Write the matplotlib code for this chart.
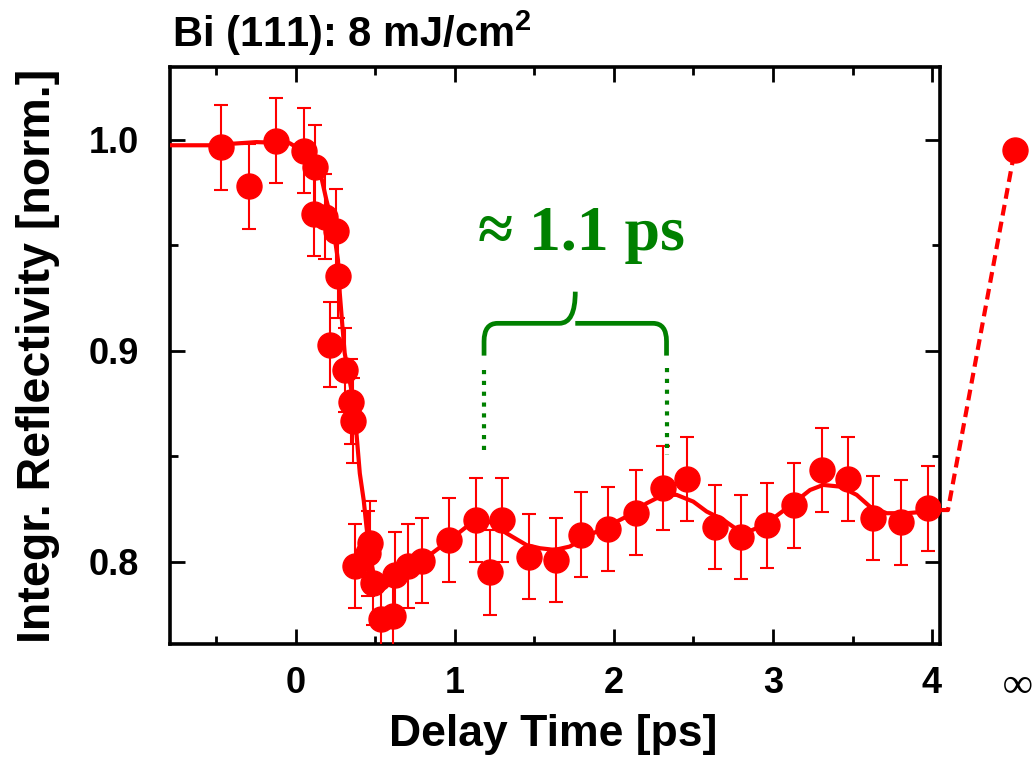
import matplotlib
matplotlib.use('Agg')
import matplotlib.pyplot as plt
from matplotlib.path import Path
from matplotlib.patches import PathPatch
from matplotlib.ticker import MultipleLocator, FixedLocator

# ---------------- data ----------------
delay = [-0.467, -0.294, -0.122, 0.05, 0.12, 0.113, 0.182, 0.256, 0.266, 0.214,
         0.308, 0.35, 0.36, 0.371, 0.455, 0.465, 0.486, 0.539, 0.612, 0.623,
         0.706, 0.794, 0.964, 1.136, 1.22, 1.294, 1.465, 1.635, 1.792, 1.964,
         2.136, 2.306, 2.461, 2.635, 2.80, 2.964, 3.13, 3.306, 3.474, 3.631,
         3.803, 3.977]
refl = [0.9965, 0.978, 0.9997, 0.995, 0.987, 0.965, 0.9637, 0.957, 0.9355, 0.903,
        0.891, 0.876, 0.867, 0.798, 0.804, 0.809, 0.790, 0.773, 0.7745, 0.794,
        0.798, 0.8006, 0.8104, 0.820, 0.795, 0.820, 0.8025, 0.801, 0.813, 0.8156,
        0.8234, 0.835, 0.8393, 0.8167, 0.8117, 0.8173, 0.8268, 0.8436, 0.8392, 0.8207,
        0.8187, 0.8254]
refl_err = [0.02, 0.02, 0.02, 0.02, 0.02, 0.02, 0.02, 0.02, 0.02, 0.02,
            0.02, 0.02, 0.02, 0.02, 0.02, 0.02, 0.02, 0.02, 0.02, 0.02,
            0.02, 0.02, 0.02, 0.02, 0.02, 0.02, 0.02, 0.02, 0.02, 0.02,
            0.02, 0.02, 0.02, 0.02, 0.02, 0.02, 0.02, 0.02, 0.02, 0.02,
            0.02, 0.02]

fit_x = [-0.792, -0.541, -0.247, -0.038, 0.067, 0.151, 0.193, 0.235, 0.266, 0.277,
         0.294, 0.308, 0.350, 0.382, 0.403, 0.428, 0.445, 0.465, 0.497, 0.528,
         0.570, 0.612, 0.696, 0.801, 0.885, 0.969, 1.074, 1.136, 1.220, 1.325,
         1.451, 1.535, 1.629, 1.723, 1.828, 1.954, 2.080, 2.206, 2.310, 2.394,
         2.499, 2.583, 2.687, 2.813, 2.897, 3.002, 3.128, 3.233, 3.316, 3.421,
         3.526, 3.610, 3.715, 3.841, 3.967, 4.050]
fit_y = [0.9975, 0.9975, 0.999, 0.9985, 0.9938, 0.9858, 0.9716, 0.959, 0.943, 0.9275,
         0.9115, 0.899, 0.8815, 0.861, 0.842, 0.829, 0.8167, 0.804, 0.7915, 0.786,
         0.7883, 0.7924, 0.796, 0.8009, 0.8057, 0.8104, 0.8167, 0.8191, 0.819, 0.8136,
         0.808, 0.8065, 0.8057, 0.8073, 0.812, 0.8167, 0.8215, 0.8278, 0.8318, 0.8318,
         0.8286, 0.8239, 0.82, 0.8133, 0.816, 0.8207, 0.8278, 0.8341, 0.8365, 0.8357,
         0.8318, 0.8262, 0.8231, 0.8231, 0.8239, 0.8246]

# link from the last delay to the "infinite delay" value (drawn past the frame)
link_x = [4.05, 4.10, 4.52]
link_y = [0.8246, 0.8246, 0.9953]
inf_x = [4.52]
inf_y = [0.9953]

xticks = [0, 1, 2, 3, 4]
xticklabels = ['0', '1', '2', '3', '4']
yticks = [0.8, 0.9, 1.0]
yticklabels = ['0.8', '0.9', '1.0']

period_start = 1.184
period_end = 2.331

# ---------------- figure ----------------
plt.rcParams['font.family'] = ['Liberation Sans', 'DejaVu Sans']
plt.rcParams['font.weight'] = 'bold'
plt.rcParams['mathtext.fontset'] = 'custom'
plt.rcParams['mathtext.bf'] = 'Liberation Sans:bold'
plt.rcParams['mathtext.rm'] = 'Liberation Sans:bold'

fig = plt.figure(figsize=(10.33, 7.61), dpi=100)
ax = fig.add_axes([170/1033, 117/761, 770/1033, 577/761])

RED = '#ff0000'
GREEN = '#008000'

ax.plot(fit_x, fit_y, color=RED, lw=3.0, zorder=3, solid_capstyle='round')
ax.errorbar(delay, refl, yerr=refl_err, fmt='o', color=RED, ms=18,
            ecolor=RED, elinewidth=1.5, capsize=5, capthick=1.5, zorder=4)

ax.plot(link_x, link_y, color=RED, lw=3.0, ls=(0, (2.6, 1.5)), clip_on=False, zorder=3)
ax.plot(inf_x, inf_y, 'o', color=RED, ms=18, clip_on=False, zorder=4)

ax.set_xlim(-0.79, 4.05)
ax.set_ylim(0.7611, 1.0346)

ax.xaxis.set_major_locator(FixedLocator(xticks))
ax.set_xticklabels(xticklabels)
ax.xaxis.set_minor_locator(MultipleLocator(0.5))
ax.yaxis.set_major_locator(FixedLocator(yticks))
ax.set_yticklabels(yticklabels)
ax.yaxis.set_minor_locator(MultipleLocator(0.05))

ax.tick_params(which='both', direction='in', top=True, right=True, width=2.0,
               labelsize=26, color='black')
ax.tick_params(which='major', length=11)
ax.tick_params(axis='y', which='major', pad=22)
ax.tick_params(axis='x', which='major', pad=16)
ax.tick_params(which='minor', length=6)
for lab in ax.get_xticklabels() + ax.get_yticklabels():
    lab.set_fontweight('bold')
for sp in ax.spines.values():
    sp.set_linewidth(2.6)

ax.set_xlabel('Delay Time [ps]', fontsize=32, fontweight='bold')
ax.xaxis.set_label_coords(0.497, -0.122)
ax.set_ylabel('Integr. Reflectivity [norm.]', fontsize=33.5, fontweight='bold')
ax.yaxis.set_label_coords(-0.143, 0.5)

# infinity label under the infinite-delay point
ax.text(inf_x[0] + 0.02, 0.7611 - 0.011, '\u221e', ha='center', va='top',
        fontsize=30, family=['Liberation Serif', 'DejaVu Serif'], fontweight='normal',
        fontstyle='italic', clip_on=False)

# title
fig.text(172/1033, 1 - 47/761, r'Bi (111): 8 mJ/cm$^{\mathbf{2}}$', fontsize=30,
         fontweight='bold', ha='left', va='baseline')

# ---------------- green period annotation ----------------
y_end, y_bar, y_tip = 0.8978, 0.9131, 0.9281
x_mid = 0.5 * (period_start + period_end)
rx, ry = 0.085, 0.0085
verts = [
    (period_start, y_end), (period_start, y_bar - ry),
    (period_start, y_bar), (period_start + rx, y_bar),
    (x_mid - 0.10, y_bar),
    (x_mid, y_bar), (x_mid, y_tip),
    (x_mid, y_bar), (x_mid + 0.10, y_bar),
    (period_end - rx, y_bar),
    (period_end, y_bar), (period_end, y_bar - ry),
    (period_end, y_end),
]
codes = [Path.MOVETO, Path.LINETO,
         Path.CURVE3, Path.CURVE3,
         Path.LINETO,
         Path.CURVE3, Path.CURVE3,
         Path.MOVETO, Path.LINETO,
         Path.LINETO,
         Path.CURVE3, Path.CURVE3,
         Path.LINETO]
ax.add_patch(PathPatch(Path(verts, codes), fill=False, edgecolor=GREEN, lw=3.4,
                       capstyle='butt', joinstyle='round', zorder=5))
ax.plot([period_start, period_start], [0.8910, 0.8500], color=GREEN, lw=3.0,
        ls=(0, (1.0, 1.6)), zorder=5)
ax.plot([period_end, period_end], [0.8920, 0.8507], color=GREEN, lw=3.0,
        ls=(0, (1.0, 1.6)), zorder=5)

ax.text(x_mid + 0.04, 0.9477, '\u2248 1.1 ps', color=GREEN, fontsize=46, fontweight='bold',
        family=['Liberation Serif', 'DejaVu Serif'], ha='center', va='baseline', zorder=6)

fig.savefig('out.png', dpi=100)
